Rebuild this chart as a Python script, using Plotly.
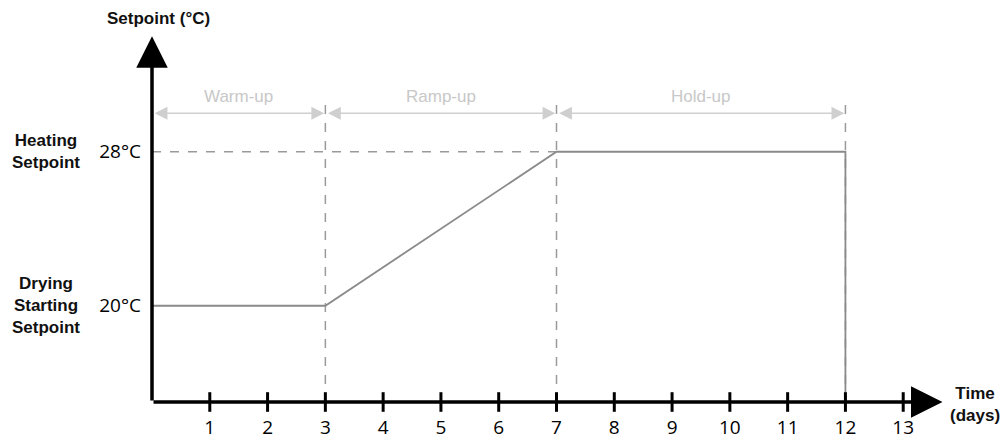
import plotly.graph_objects as go

# Data
time_days = [0, 3, 7, 12, 12]
setpoint_c = [20, 20, 28, 28, 15]
phase_names = ["Warm-up", "Ramp-up", "Hold-up"]
phase_start = [0, 3, 7]
phase_end = [3, 7, 12]
phase_bounds = [3, 7, 12]
x_ticks = list(range(1, 14))
y_tick_vals = [20, 28]
y_tick_text = ["20°C", "28°C"]
heating_setpoint = 28

X_MIN, X_MAX = 0, 14
Y_MIN, Y_MAX = 15, 35
PHASE_Y = 30

fig = go.Figure()

# main setpoint line
fig.add_trace(go.Scatter(x=time_days, y=setpoint_c, mode="lines",
                         line=dict(color="#8a8a8a", width=1.8), hoverinfo="skip",
                         cliponaxis=False, showlegend=False))

# tick marks on x axis
fig.add_trace(go.Scatter(x=x_ticks, y=[Y_MIN] * len(x_ticks), mode="markers",
                         marker=dict(symbol="line-ns", size=14,
                                     line=dict(color="black", width=3)),
                         cliponaxis=False, hoverinfo="skip", showlegend=False))

shapes = []
# vertical dashed phase boundaries
for b in phase_bounds:
    shapes.append(dict(type="line", xref="x", yref="y", x0=b, x1=b, y0=Y_MIN, y1=30.75,
                       line=dict(color="#9a9a9a", width=1.5, dash="dash"), layer="below"))
# horizontal dashed heating setpoint
shapes.append(dict(type="line", xref="x", yref="y", x0=0, x1=phase_bounds[1],
                   y0=heating_setpoint, y1=heating_setpoint,
                   line=dict(color="#9a9a9a", width=1.5, dash="dash"), layer="below"))

annotations = []
# axes with arrows
annotations.append(dict(x=13.68, y=Y_MIN, ax=X_MIN, ay=Y_MIN, xref="x", yref="y",
                        axref="x", ayref="y", showarrow=True, arrowhead=2, arrowsize=1.8,
                        arrowwidth=3.5, arrowcolor="black", text=""))
annotations.append(dict(x=X_MIN, y=34.0, ax=X_MIN, ay=Y_MIN, xref="x", yref="y",
                        axref="x", ayref="y", showarrow=True, arrowhead=2, arrowsize=1.8,
                        arrowwidth=3.5, arrowcolor="black", text=""))

# phase arrows and labels
for name, s, e in zip(phase_names, phase_start, phase_end):
    annotations.append(dict(x=e - 0.02, y=PHASE_Y, ax=s + 0.02, ay=PHASE_Y, xref="x", yref="y",
                            axref="x", ayref="y", showarrow=True, arrowhead=2,
                            startarrowhead=2, arrowside="end+start", arrowsize=1.6,
                            startarrowsize=1.6, arrowwidth=1.6, arrowcolor="#cfcfcf", text=""))
    annotations.append(dict(x=(s + e) / 2, y=PHASE_Y, xref="x", yref="y", text=name,
                            showarrow=False, yshift=17,
                            font=dict(family="Liberation Sans, Arial", size=17, color="#c8c8c8")))

bold = dict(family="Liberation Sans, Arial", size=17, color="#111", weight="bold")
# left labels
annotations.append(dict(x=0, y=28, xref="x", yref="y", text="Heating<br>Setpoint",
                        showarrow=False, xshift=-106, align="center", font=bold))
annotations.append(dict(x=0, y=20, xref="x", yref="y", text="Drying<br>Starting<br>Setpoint",
                        showarrow=False, xshift=-106, align="center", font=bold))
# axis titles
annotations.append(dict(x=0, y=35, xref="x", yref="y", text="Setpoint (°C)",
                        showarrow=False, xshift=6, yshift=-1, yanchor="middle", font=bold))
annotations.append(dict(x=14, y=Y_MIN, xref="x", yref="y", text="Time<br>(days)",
                        showarrow=False, xshift=14, yshift=-2, align="center", font=bold))

fig.update_layout(
    width=1006, height=439,
    margin=dict(l=152, r=45, t=17, b=37, autoexpand=False),
    plot_bgcolor="white", paper_bgcolor="white",
    shapes=shapes, annotations=annotations,
    xaxis=dict(range=[X_MIN, X_MAX], showgrid=False, zeroline=False, showline=False,
               automargin=False, tickvals=x_ticks, ticks="", ticklabelstandoff=12,
               tickfont=dict(family="Open Sans", size=19, color="black")),
    yaxis=dict(range=[Y_MIN, Y_MAX], showgrid=False, zeroline=False, showline=False,
               automargin=False, tickvals=y_tick_vals, ticktext=y_tick_text, ticks="",
               ticklabelstandoff=10,
               tickfont=dict(family="Open Sans", size=19, color="black")),
)

fig.write_html("out.html", config={"displayModeBar": False},
               post_script="document.body.style.margin='0';document.body.style.overflow='hidden';")
